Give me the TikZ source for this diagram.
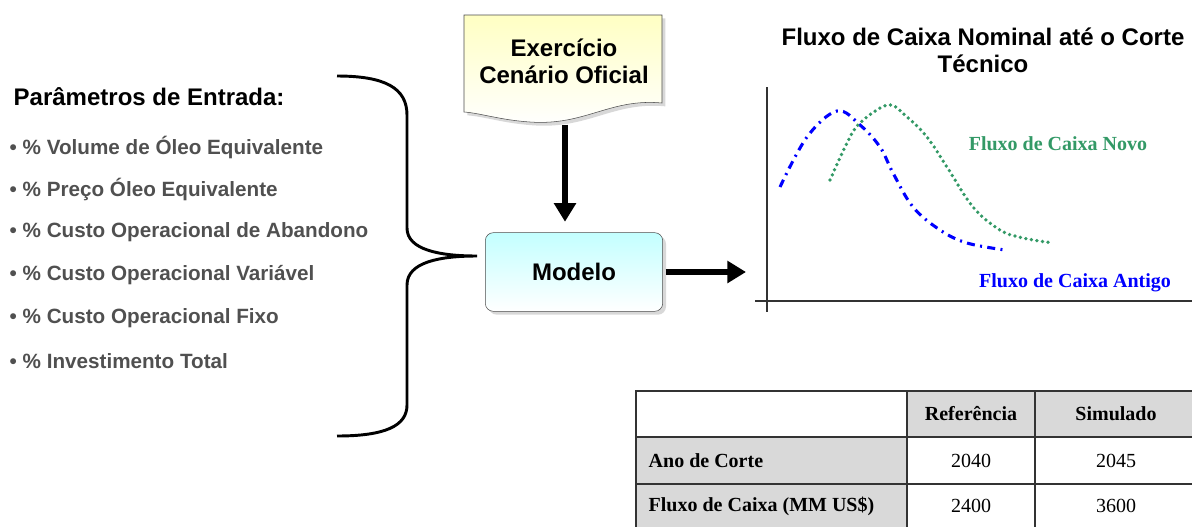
\documentclass[tikz,border=0pt]{standalone}
\usepackage{fontspec}
\setmainfont{Liberation Sans}
\newfontfamily\timesfont{Liberation Serif}
\usetikzlibrary{arrows.meta,positioning,shadows}

\definecolor{textgray}{RGB}{80,80,80}
\definecolor{novo}{RGB}{51,153,102}
\definecolor{antigo}{RGB}{0,0,255}
\definecolor{cellgray}{RGB}{217,217,217}
\definecolor{docyellow}{RGB}{255,255,195}
\definecolor{boxcyan}{RGB}{195,255,255}

\begin{document}
\begin{tikzpicture}[x=0.75pt, y=-0.75pt,
  title/.style = {font=\fontsize{18}{20.5}\selectfont\bfseries, align=center},
  param/.style = {anchor=west, font=\fontsize{15.5}{18}\selectfont\bfseries, text=textgray},
  fatarrow/.style = {line width=4.5pt, -{Triangle[width=16pt,length=14pt]}},
  curvelabel/.style = {font=\fontsize{15}{18}\timesfont\bfseries},
  cell/.style = {font=\fontsize{15}{18}\timesfont},
  shade/.style = {drop shadow={shadow xshift=2.5pt, shadow yshift=-2.5pt, fill=gray!60}}]
  \useasboundingbox (0,0) rectangle (1192,526);

  % parametros de entrada
  \node[title, anchor=west] (params) at (9,97) {Parâmetros de Entrada:};
  \foreach \txt [count=\i] in {Volume de Óleo Equivalente, Preço Óleo Equivalente,
      Custo Operacional de Abandono, Custo Operacional Variável,
      Custo Operacional Fixo, Investimento Total}
    \node[param] (p\i) at (5,{147+42.8*(\i-1)}) {• \% \txt};

  % chave
  \draw[line width=2.2pt] (337,76) .. controls (385,76) and (407,88) .. (407,115)
    -- (407,228) .. controls (407,250) and (440,256) .. (477,256)
    .. controls (440,256) and (407,262) .. (407,285)
    -- (407,405) .. controls (407,426) and (385,436) .. (337,436);

  % exercicio cenario oficial
  \path[draw=gray!60!black, top color=docyellow, bottom color=white, shade]
    (464,15) -- (662,15) -- (662,103)
    .. controls (610,98) and (585,126) .. (530,122)
    .. controls (500,120) and (480,113) .. (464,112) -- cycle;
  \node[title] (doc) at (564,61) {Exercício\\Cenário Oficial};
  \coordinate (docbottom) at (565,122);

  % modelo
  \node[title, draw=gray!60!black, rounded corners=6pt, top color=boxcyan,
    bottom color=white, minimum width=133pt, minimum height=59pt, shade]
    (modelo) at (574,272) {Modelo};
  \coordinate (chartin) at (746,272);
  \draw[fatarrow, shorten <=2pt, shorten >=8pt] (docbottom) -- (docbottom |- modelo.north);
  \draw[fatarrow, shorten <=2pt] (modelo.east) -- (chartin);

  % grafico
  \node[title] (charttitle) at (983,50) {Fluxo de Caixa Nominal até o Corte\\Técnico};
  \draw[line width=1.1pt, black!80] (767,87) -- (767,312);
  \draw[line width=1.1pt, black!80] (755,301) -- (1192,301);
  \draw[antigo, line width=2.3pt, dash pattern=on 6pt off 4pt on 1.5pt off 4pt]
    plot[smooth, tension=0.6] coordinates {(780,187) (807,137) (837,111) (860,125)
      (880,147) (893,173) (913,207) (940,230) (967,243) (1005,250)};
  \draw[novo, line width=2.8pt, line cap=round, dash pattern=on 0pt off 4.2pt]
    plot[smooth, tension=0.6] coordinates {(830,180) (847,143) (860,123) (888,105)
      (907,117) (927,137) (947,167) (973,207) (1000,230) (1023,238) (1053,243)};
  \node[curvelabel, text=novo] (novo) at (1058,144) {Fluxo de Caixa Novo};
  \node[curvelabel, text=antigo] (antigo) at (1075,283) {Fluxo de Caixa Antigo};

  % tabela
  \fill[cellgray] (907,391) rectangle (1200,437);
  \fill[cellgray] (636,437) rectangle (907,530);
  \draw[line width=1.2pt, black!80] (636,391) rectangle (1200,530)
    (636,437) -- (1200,437) (636,484) -- (1200,484)
    (907,391) -- (907,530) (1035,391) -- (1035,530);
  \node[cell, font=\fontsize{15}{18}\timesfont\bfseries] (ref) at (971,414) {Referência};
  \node[cell, font=\fontsize{15}{18}\timesfont\bfseries] (sim) at (1116,414) {Simulado};
  \node[cell, font=\fontsize{15}{18}\timesfont\bfseries, anchor=west] (ano) at (644,461) {Ano de Corte};
  \node[cell, font=\fontsize{15}{18}\timesfont\bfseries, anchor=west] (fluxo) at (644,506) {Fluxo de Caixa (MM US\$)};
  \node[cell] (ref1) at (971,461) {2040};
  \node[cell] (sim1) at (1116,461) {2045};
  \node[cell] (ref2) at (971,506) {2400};
  \node[cell] (sim2) at (1116,506) {3600};
\end{tikzpicture}
\end{document}
